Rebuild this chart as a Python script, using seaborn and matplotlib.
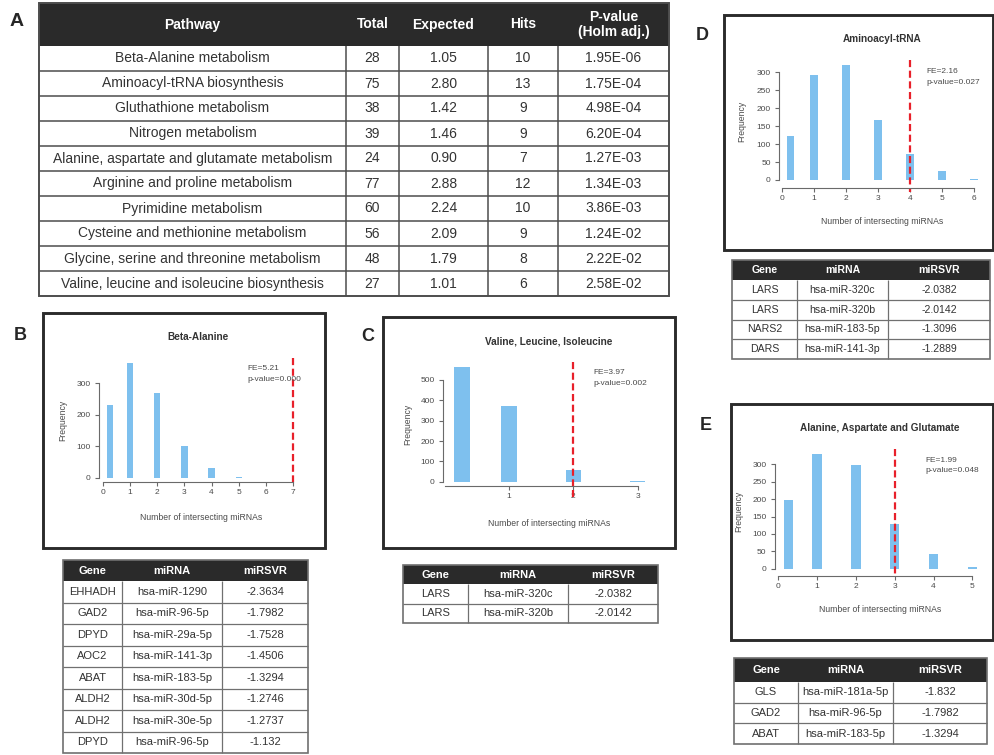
import numpy as np
import pandas as pd
import matplotlib
matplotlib.use("Agg")
import matplotlib.pyplot as plt
from matplotlib.patches import Rectangle
from matplotlib.transforms import blended_transform_factory
import seaborn as sns

# ---------------- Panel A: enriched pathways ----------------
pathways = [
    "Beta-Alanine metabolism",
    "Aminoacyl-tRNA biosynthesis",
    "Gluthathione metabolism",
    "Nitrogen metabolism",
    "Alanine, aspartate and glutamate metabolism",
    "Arginine and proline metabolism",
    "Pyrimidine metabolism",
    "Cysteine and methionine metabolism",
    "Glycine, serine and threonine metabolism",
    "Valine, leucine and isoleucine biosynthesis",
]
pathway_total = [28, 75, 38, 39, 24, 77, 60, 56, 48, 27]
pathway_expected = [1.05, 2.80, 1.42, 1.46, 0.90, 2.88, 2.24, 2.09, 1.79, 1.01]
pathway_hits = [10, 13, 9, 9, 7, 12, 10, 9, 8, 6]
pathway_pvalue = [1.95e-06, 1.75e-04, 4.98e-04, 6.20e-04, 1.27e-03,
                  1.34e-03, 3.86e-03, 1.24e-02, 2.22e-02, 2.58e-02]
pathway_header = ["Pathway", "Total", "Expected", "Hits", "P-value\n(Holm adj.)"]

# ---------------- Permutation histograms (B-E) ----------------
beta_counts = [230, 362, 267, 100, 31, 4]
valine_counts = [565, 372, 57, 1]
aminoacyl_counts = [122, 292, 320, 168, 72, 25, 3]
alanine_counts = [196, 329, 297, 128, 42, 5]

hist_titles = ["Beta-Alanine", "Valine, Leucine, Isoleucine",
               "Aminoacyl-tRNA", "Alanine, Aspartate and Glutamate"]
observed_hits = [7, 2, 4, 3]
fold_enrichment = [5.21, 3.97, 2.16, 1.99]
perm_pvalue = [0.000, 0.002, 0.027, 0.048]

# ---------------- Gene / miRNA target tables ----------------
mini_header = ["Gene", "miRNA", "miRSVR"]

beta_genes = ["EHHADH", "GAD2", "DPYD", "AOC2", "ABAT", "ALDH2", "ALDH2", "DPYD"]
beta_mirnas = ["hsa-miR-1290", "hsa-miR-96-5p", "hsa-miR-29a-5p", "hsa-miR-141-3p",
               "hsa-miR-183-5p", "hsa-miR-30d-5p", "hsa-miR-30e-5p", "hsa-miR-96-5p"]
beta_svr = [-2.3634, -1.7982, -1.7528, -1.4506, -1.3294, -1.2746, -1.2737, -1.132]

valine_genes = ["LARS", "LARS"]
valine_mirnas = ["hsa-miR-320c", "hsa-miR-320b"]
valine_svr = [-2.0382, -2.0142]

aminoacyl_genes = ["LARS", "LARS", "NARS2", "DARS"]
aminoacyl_mirnas = ["hsa-miR-320c", "hsa-miR-320b", "hsa-miR-183-5p", "hsa-miR-141-3p"]
aminoacyl_svr = [-2.0382, -2.0142, -1.3096, -1.2889]

alanine_genes = ["GLS", "GAD2", "ABAT"]
alanine_mirnas = ["hsa-miR-181a-5p", "hsa-miR-96-5p", "hsa-miR-183-5p"]
alanine_svr = [-1.832, -1.7982, -1.3294]

# ---------------- Style ----------------
sns.set_theme(style="white")
plt.rcParams["font.family"] = ["Liberation Sans", "DejaVu Sans"]

BAR_COLOR = "#7EC0EE"
LINE_RED = "#E8202A"
HEADER_BG = "#2A2A2A"
AXIS_GREY = "#6a6a6a"
TEXT_GREY = "#4a4a4a"
BOX_COLOR = "#2b2b2b"
BAR_W = 0.24          # bar width in x units
ZERO_BAR_POS = 0.27   # the zero bin is drawn just right of the y axis

W, H = 995, 755
fig = plt.figure(figsize=(W / 100, H / 100), dpi=100)
fig.patch.set_facecolor("white")


def frac_rect(x0, y0, x1, y1):
    return [x0 / W, 1 - y1 / H, (x1 - x0) / W, (y1 - y0) / H]


def fig_text(px, py, s, **kw):
    fig.text(px / W, 1 - py / H, s, **kw)


def panel_box(x0, y0, x1, y1):
    fig.add_artist(Rectangle((x0 / W, 1 - y1 / H), (x1 - x0) / W, (y1 - y0) / H,
                             transform=fig.transFigure, fill=False,
                             edgecolor=BOX_COLOR, linewidth=2.1))


def draw_table(box, col_edges, header_h, header, columns, fontsize,
               line_color="#707070", lw=0.9, border_lw=1.2,
               text_color="#333333", linespacing=1.1):
    x0, y0, x1, y1 = box
    ax = fig.add_axes(frac_rect(x0, y0, x1, y1))
    ax.set_xlim(x0, x1)
    ax.set_ylim(y1, y0)
    ax.set_axis_off()
    n_rows = len(columns[0])
    row_h = (y1 - y0 - header_h) / n_rows
    ax.add_patch(Rectangle((x0, y0), x1 - x0, header_h, facecolor=HEADER_BG,
                           edgecolor="none", clip_on=False))
    centers = [(a + b) / 2 for a, b in zip(col_edges[:-1], col_edges[1:])]
    for cx, label in zip(centers, header):
        ax.text(cx, y0 + header_h / 2, label, ha="center", va="center",
                color="white", fontsize=fontsize, fontweight="bold",
                linespacing=linespacing)
    for i in range(n_rows):
        cy = y0 + header_h + (i + 0.5) * row_h
        for cx, col in zip(centers, columns):
            ax.text(cx, cy, col[i], ha="center", va="center",
                    color=text_color, fontsize=fontsize)
    row_lines = [y0 + header_h + k * row_h for k in range(1, n_rows)]
    ax.hlines(row_lines, x0, x1, colors=line_color, linewidth=lw, clip_on=False)
    ax.vlines(col_edges[1:-1], y0 + header_h, y1, colors=line_color,
              linewidth=lw, clip_on=False)
    ax.add_patch(Rectangle((x0, y0), x1 - x0, y1 - y0, fill=False,
                           edgecolor=line_color, linewidth=border_lw, clip_on=False))


def hist_panel(idx, counts, g):
    left, top, right, y0px = g["plot"]
    va, pa, vb, pb = g["x_cal"]
    sx = (pb - pa) / (vb - va)
    ya, ypa, yb, ypb = g["y_cal"]
    sy = (ypa - ypb) / (yb - ya)

    ax = fig.add_axes(frac_rect(left, top, right, y0px))
    ax.patch.set_alpha(0)

    pos = np.arange(len(counts), dtype=float)
    pos[0] = ZERO_BAR_POS
    df = pd.DataFrame({"hits": pos, "freq": counts})
    sns.barplot(data=df, x="hits", y="freq", native_scale=True,
                width=BAR_W / np.diff(pos).min(), color=BAR_COLOR,
                saturation=1, errorbar=None, edgecolor="none", ax=ax)

    ax.set_xlim(va + (left - pa) / sx, va + (right - pa) / sx)
    ax.set_ylim(0, (y0px - top) / sy)
    ax.set_xlabel("")
    ax.set_ylabel("")
    ax.set_xticks(g["xticks"])
    ax.set_xticklabels([str(t) for t in g["xticks"]])
    ax.set_yticks(g["yticks"])
    ax.set_yticklabels([str(t) for t in g["yticks"]])

    for s in ("top", "right"):
        ax.spines[s].set_visible(False)
    for s in ("left", "bottom"):
        ax.spines[s].set_color(AXIS_GREY)
        ax.spines[s].set_linewidth(0.8)
    ax.spines["left"].set_bounds(0, g["yticks"][-1])
    ax.spines["left"].set_position(("data", va + (g["yaxis_px"] - pa) / sx))
    ax.spines["bottom"].set_bounds(0, g["xmax"])
    ax.spines["bottom"].set_position(("outward", g["drop"] * 0.72))
    ax.tick_params(axis="both", length=2.6, width=0.8, color=AXIS_GREY,
                   labelsize=6, labelcolor=TEXT_GREY, direction="out",
                   left=True, bottom=True)
    ax.tick_params(axis="y", pad=3.5)
    ax.tick_params(axis="x", pad=2.5)

    # observed number of hits
    tr = blended_transform_factory(ax.transData, fig.transFigure)
    l_top, l_bot = g["line_px"]
    ax.plot([observed_hits[idx]] * 2, [1 - l_top / H, 1 - l_bot / H],
            transform=tr, color=LINE_RED, linewidth=1.6,
            dashes=(3.2, 1.6), clip_on=False)

    fx, fy = g["fe_xy"]
    fig_text(fx, fy, f"FE={fold_enrichment[idx]:.2f}", fontsize=6,
             color=TEXT_GREY, ha="left", va="center")
    fig_text(fx, fy + 10.5, f"p-value={perm_pvalue[idx]:.3f}", fontsize=6,
             color=TEXT_GREY, ha="left", va="center")
    tx, ty = g["title_xy"]
    fig_text(tx, ty, hist_titles[idx], fontsize=7.2, fontweight="bold",
             color="#333333", ha="center", va="center")
    lx, ly = g["ylab_xy"]
    fig_text(lx, ly, "Frequency", fontsize=6.2, color=TEXT_GREY,
             rotation=90, ha="center", va="center")
    xx, xy = g["xlab_xy"]
    fig_text(xx, xy, "Number of intersecting miRNAs", fontsize=6.2,
             color=TEXT_GREY, ha="center", va="center")
    panel_box(*g["box"])


# ---------------- Panel A table ----------------
draw_table((39, 3, 669, 296), [39, 346, 399, 488, 558, 669], 43, pathway_header,
           [pathways,
            [str(v) for v in pathway_total],
            [f"{v:.2f}" for v in pathway_expected],
            [str(v) for v in pathway_hits],
            [f"{v:.2E}" for v in pathway_pvalue]],
           fontsize=10, line_color="#4d4d4d", lw=1.1, border_lw=1.4)
fig_text(17, 22, "A", fontsize=14, fontweight="bold", ha="center", va="center")

# ---------------- Histogram panels ----------------
geom_B = dict(box=(43, 313, 325, 548), plot=(90, 345, 306, 478),
              x_cal=(0, 102.7, 7, 293.3), y_cal=(0, 478, 300, 383),
              yaxis_px=99.3, drop=4, xmax=7, xticks=list(range(0, 8)),
              yticks=list(range(0, 301, 100)), line_px=(358, 482),
              fe_xy=(247, 369), title_xy=(198, 337), ylab_xy=(62.7, 420),
              xlab_xy=(201, 518))
geom_C = dict(box=(383, 317, 675, 548), plot=(436, 352, 662, 481.7),
              x_cal=(1, 509, 2, 573.3), y_cal=(0, 481.7, 500, 380),
              yaxis_px=443.3, drop=4.3, xmax=3, xticks=[1, 2, 3],
              yticks=list(range(0, 501, 100)), line_px=(361.7, 497),
              fe_xy=(593, 373), title_xy=(549, 341), ylab_xy=(408, 424),
              xlab_xy=(549, 524))
geom_D = dict(box=(724, 15, 993, 250), plot=(772, 52, 985, 180),
              x_cal=(0, 781.7, 6, 974), y_cal=(0, 180, 300, 72.3),
              yaxis_px=779.3, drop=8, xmax=6, xticks=list(range(0, 7)),
              yticks=list(range(0, 301, 50)), line_px=(60, 192),
              fe_xy=(926.7, 71.7), title_xy=(881.7, 39), ylab_xy=(741.7, 121),
              xlab_xy=(882, 221))
geom_E = dict(box=(731, 404, 993, 640), plot=(767, 442, 985, 568.7),
              x_cal=(0, 778.3, 5, 972.3), y_cal=(0, 568.7, 300, 464.3),
              yaxis_px=775, drop=7.3, xmax=5, xticks=list(range(0, 6)),
              yticks=list(range(0, 301, 50)), line_px=(449, 577),
              fe_xy=(925, 460), title_xy=(880, 427.7), ylab_xy=(739, 511),
              xlab_xy=(880, 610))

hist_panel(0, beta_counts, geom_B)
hist_panel(1, valine_counts, geom_C)
hist_panel(2, aminoacyl_counts, geom_D)
hist_panel(3, alanine_counts, geom_E)

fig_text(20, 335, "B", fontsize=13, fontweight="bold", ha="center", va="center")
fig_text(368, 337, "C", fontsize=13, fontweight="bold", ha="center", va="center")
fig_text(702, 35, "D", fontsize=13, fontweight="bold", ha="center", va="center")
fig_text(706, 425, "E", fontsize=13, fontweight="bold", ha="center", va="center")

# ---------------- Target tables ----------------
draw_table((63, 560, 308, 753), [63, 122, 222, 308], 21, mini_header,
           [beta_genes, beta_mirnas, [str(v) for v in beta_svr]], fontsize=8)
draw_table((403, 565, 658, 623), [403, 468, 568, 658], 19, mini_header,
           [valine_genes, valine_mirnas, [str(v) for v in valine_svr]], fontsize=8)
draw_table((732, 260, 990, 359), [732, 797, 888, 990], 20, mini_header,
           [aminoacyl_genes, aminoacyl_mirnas, [str(v) for v in aminoacyl_svr]],
           fontsize=7.6)
draw_table((734, 658, 987, 744), [734, 798, 893, 987], 24, mini_header,
           [alanine_genes, alanine_mirnas, [str(v) for v in alanine_svr]], fontsize=8)

fig.savefig("out.png", dpi=100, facecolor="white")
